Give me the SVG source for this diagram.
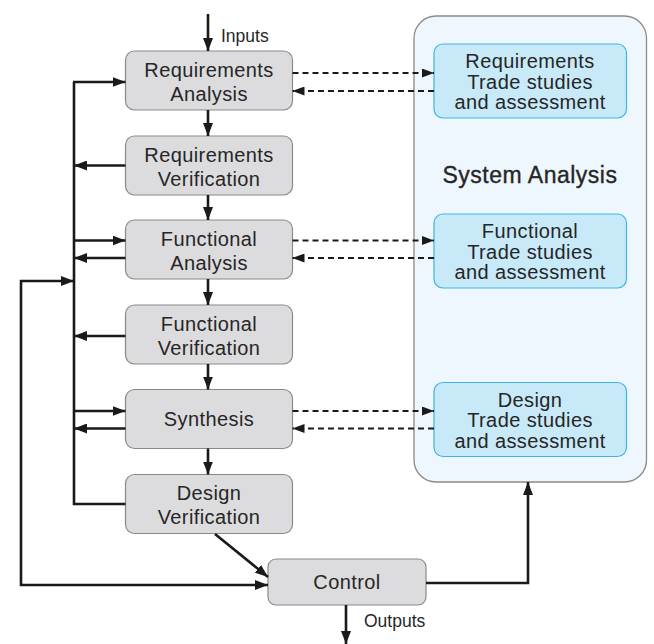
<svg xmlns="http://www.w3.org/2000/svg" width="654" height="644" viewBox="0 0 654 644">
<defs>
<marker id="ah" markerUnits="userSpaceOnUse" markerWidth="13" markerHeight="10" refX="13" refY="5" orient="auto"><path d="M0,0 L13,5 L0,10 z" fill="#1a1a1a"/></marker>
<marker id="ahs" markerUnits="userSpaceOnUse" markerWidth="12" markerHeight="9" refX="12" refY="4.5" orient="auto"><path d="M0,0 L12,4.5 L0,9 z" fill="#1a1a1a"/></marker>
<style>
.node rect{fill:#dcdcde;stroke:#8a8a8a;stroke-width:1.2}
.trade rect{fill:#c8e9f8;stroke:#3db5e6;stroke-width:1.2}
text{font-family:"Liberation Sans",Arial,sans-serif;fill:#262626;text-anchor:middle}
.nt{font-size:20px;letter-spacing:0.4px}
.tt{font-size:20px;letter-spacing:0.4px}
.lbl{font-size:17.5px;text-anchor:start}
.solid{fill:none;stroke:#1a1a1a;stroke-width:2.6}
.dash{fill:none;stroke:#1a1a1a;stroke-width:2;stroke-dasharray:6,4}
</style>
</defs>
<g id="system-analysis">
<rect x="414" y="16" width="232.5" height="466" rx="22" fill="#eef7fd" stroke="#8a8a8a" stroke-width="1.3"/>
<text x="530" y="183" font-size="23" stroke="#262626" stroke-width="0.35" letter-spacing="0.5">System Analysis</text>
</g>
<g id="req-trade" class="trade"><rect x="434" y="44" width="192.5" height="74" rx="9"/>
<text class="tt" x="530" y="68">Requirements</text><text class="tt" x="530" y="88.5">Trade studies</text><text class="tt" x="530" y="109">and assessment</text></g>
<g id="func-trade" class="trade"><rect x="434" y="214" width="192.5" height="74" rx="9"/>
<text class="tt" x="530" y="238">Functional</text><text class="tt" x="530" y="258.5">Trade studies</text><text class="tt" x="530" y="279">and assessment</text></g>
<g id="design-trade" class="trade"><rect x="434" y="382.5" width="192.5" height="74" rx="9"/>
<text class="tt" x="530" y="406.5">Design</text><text class="tt" x="530" y="427">Trade studies</text><text class="tt" x="530" y="447.5">and assessment</text></g>

<g id="req-analysis" class="node"><rect x="125.5" y="51" width="167" height="59" rx="9"/>
<text class="nt" x="209" y="77">Requirements</text><text class="nt" x="209" y="100.5">Analysis</text></g>
<g id="req-verification" class="node"><rect x="125.5" y="136" width="167" height="59" rx="9"/>
<text class="nt" x="209" y="162">Requirements</text><text class="nt" x="209" y="185.5">Verification</text></g>
<g id="func-analysis" class="node"><rect x="125.5" y="220" width="167" height="59" rx="9"/>
<text class="nt" x="209" y="246">Functional</text><text class="nt" x="209" y="269.5">Analysis</text></g>
<g id="func-verification" class="node"><rect x="125.5" y="305" width="167" height="59" rx="9"/>
<text class="nt" x="209" y="331">Functional</text><text class="nt" x="209" y="354.5">Verification</text></g>
<g id="synthesis" class="node"><rect x="125.5" y="389.5" width="167" height="59" rx="9"/>
<text class="nt" x="209" y="426">Synthesis</text></g>
<g id="design-verification" class="node"><rect x="125.5" y="474.5" width="167" height="59" rx="9"/>
<text class="nt" x="209" y="500">Design</text><text class="nt" x="209" y="523.5">Verification</text></g>
<g id="control" class="node"><rect x="268" y="559" width="158" height="46" rx="8"/>
<text class="nt" x="347" y="589">Control</text></g>

<g id="connectors">
<path class="solid" d="M208,14 V51" marker-end="url(#ah)"/>
<text class="lbl" x="221" y="42">Inputs</text>
<path class="solid" d="M208,110 V136" marker-end="url(#ah)"/>
<path class="solid" d="M208,195 V220" marker-end="url(#ah)"/>
<path class="solid" d="M208,279 V305" marker-end="url(#ah)"/>
<path class="solid" d="M208,364 V389.5" marker-end="url(#ah)"/>
<path class="solid" d="M208,448.5 V474.5" marker-end="url(#ah)"/>
<path class="solid" d="M346,605 V644" marker-end="url(#ah)"/>
<text class="lbl" x="364" y="627">Outputs</text>

<path class="solid" d="M74,82 V504 H125.5"/>
<path class="solid" d="M73,82 H125.5" marker-end="url(#ah)"/>
<path class="solid" d="M125.5,165.5 H74" marker-end="url(#ah)"/>
<path class="solid" d="M74,240.5 H125.5" marker-end="url(#ah)"/>
<path class="solid" d="M125.5,258 H74" marker-end="url(#ah)"/>
<path class="solid" d="M125.5,336 H74" marker-end="url(#ah)"/>
<path class="solid" d="M74,411 H125.5" marker-end="url(#ah)"/>
<path class="solid" d="M125.5,428.5 H74" marker-end="url(#ah)"/>

<path class="solid" d="M21,430 V281 H74" marker-end="url(#ah)"/>
<path class="solid" d="M21,430 V585 H268" marker-end="url(#ah)"/>
<path class="solid" d="M215,534 L268,577" marker-end="url(#ah)"/>
<path class="solid" d="M426,583 H528 V482" marker-end="url(#ah)"/>

<path class="dash" d="M292.5,73 H434" marker-end="url(#ahs)"/>
<path class="dash" d="M434,91 H292.5" marker-end="url(#ahs)"/>
<path class="dash" d="M292.5,240.5 H434" marker-end="url(#ahs)"/>
<path class="dash" d="M434,258 H292.5" marker-end="url(#ahs)"/>
<path class="dash" d="M292.5,411 H434" marker-end="url(#ahs)"/>
<path class="dash" d="M434,428.5 H292.5" marker-end="url(#ahs)"/>
</g>
</svg>
